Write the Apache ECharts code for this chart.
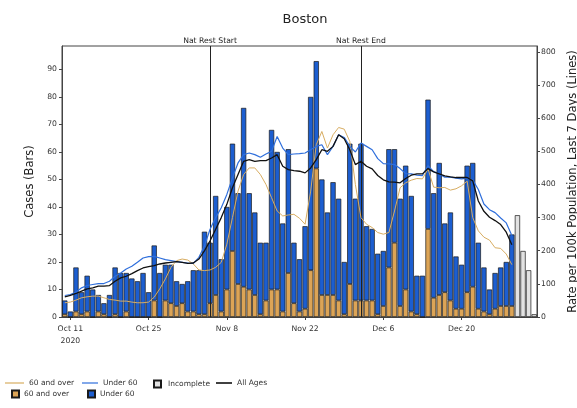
<!DOCTYPE html>
<html><head><meta charset="utf-8">
<script src="https://cdn.jsdelivr.net/npm/echarts@6/dist/echarts.min.js"></script>
<style>html,body{margin:0;padding:0;background:#fff}#c{width:577px;height:408px}</style>
</head><body><div id="c"></div>
<script>
const categories = ['Oct 10','Oct 11','Oct 12','Oct 13','Oct 14','Oct 15','Oct 16','Oct 17','Oct 18','Oct 19','Oct 20','Oct 21','Oct 22','Oct 23','Oct 24','Oct 25','Oct 26','Oct 27','Oct 28','Oct 29','Oct 30','Oct 31',
'Nov 1','Nov 2','Nov 3','Nov 4','Nov 5','Nov 6','Nov 7','Nov 8','Nov 9','Nov 10','Nov 11','Nov 12','Nov 13','Nov 14','Nov 15','Nov 16','Nov 17','Nov 18','Nov 19','Nov 20','Nov 21','Nov 22','Nov 23','Nov 24','Nov 25','Nov 26','Nov 27','Nov 28','Nov 29','Nov 30',
'Dec 1','Dec 2','Dec 3','Dec 4','Dec 5','Dec 6','Dec 7','Dec 8','Dec 9','Dec 10','Dec 11','Dec 12','Dec 13','Dec 14','Dec 15','Dec 16','Dec 17','Dec 18','Dec 19','Dec 20','Dec 21','Dec 22','Dec 23','Dec 24','Dec 25','Dec 26','Dec 27','Dec 28','Dec 29','Dec 30','Dec 31',
'Jan 1','Jan 2'];

const over60Cases = [1,0,2,1,2,0,2,1,0,1, 0,2,0,0,0,0,6,0,6,5, 4,5,2,2,1,1,5,8,2,10, 24,12,11,10,8,1,6,10,10,2, 16,5,2,3,17,54,8,8,8,6, 1,12,6,6,6,6,1,4,18,27, 4,10,2,1,0,32,7,8,9,6, 3,3,9,11,3,2,1,3,4,4, 4];
const under60Cases = [5,2,16,8,13,10,6,4,8,17, 16,14,14,13,16,9,20,16,13,14, 9,7,11,15,16,30,22,36,19,30, 39,33,65,35,30,26,21,58,50,32, 45,22,19,30,63,39,42,30,41,37, 19,51,37,57,27,26,22,20,43,34, 39,45,42,14,15,47,38,48,25,32, 19,16,46,45,24,16,9,13,14,16, 26];
const incompleteDates = ['Dec 30','Dec 31','Jan 1','Jan 2'];
const incompleteCases = [37,24,17,1];

const over60Rate = [43,45,51,58,61,63,63,58,53,51, 48,48,45,43,43,45,60,85,115,150, 170,175,172,160,142,140,142,150,165,220, 300,380,430,450,450,430,400,360,320,305, 308,310,298,280,380,520,560,510,550,572, 567,530,400,300,280,270,255,250,255,320, 390,405,413,418,417,447,392,390,391,383, 387,396,410,300,260,241,232,209,207,190, 158];
const under60Rate = [65,68,75,88,95,98,101,101,108,123, 133,145,153,165,178,182,183,178,173,170, 167,165,163,162,180,215,265,300,330,370, 420,465,490,495,490,482,492,500,545,510, 490,492,493,495,505,515,520,490,515,550, 542,515,498,525,515,505,478,463,462,460, 448,433,432,428,427,457,439,432,422,422, 419,417,419,414,385,341,324,315,299,284, 246];
const allAgesRate = [61,65,71,78,85,88,93,93,95,108, 118,123,131,140,148,152,155,160,163,165, 167,165,162,163,175,200,230,265,300,340, 390,430,470,475,470,472,472,480,490,455, 445,442,440,435,450,475,505,500,515,550, 538,505,460,470,455,447,427,414,408,407, 405,418,428,432,432,448,438,432,426,423, 421,421,421,411,350,319,301,291,279,256, 218];

const leftTicks = [0,10,20,30,40,50,60,70,80,90];
const rightTicks = [0,100,200,300,400,500,600,700,800];
const xTickDates = ['Oct 11','Oct 25','Nov 8','Nov 22','Dec 6','Dec 20'];
const firstLabelYear = '2020';
const events = [{name:'Nat Rest Start', date:'Nov 5'},{name:'Nat Rest End', date:'Dec 2'}];

const FONT = 'DejaVu Sans';
const TXT = '#333';
const tickSet = new Set(xTickDates);
const showTick = (i, v) => tickSet.has(categories[i]);

function lg(name, left, top, w, h, pad) {
  return {
    data:[name], left:left, top:top, itemWidth:w, itemHeight:h, icon:'rect',
    padding:0, itemGap:0, selectedMode:false,
    textStyle:{fontSize:7.5, color:TXT, fontFamily:FONT, padding:[0,0,0,pad||0]},
    formatter: n => n.replace(' rate','')
  };
}

const chart = echarts.init(document.getElementById('c'), null, {renderer:'canvas'});
chart.setOption({
  animation:false,
  backgroundColor:'#fff',
  textStyle:{fontFamily:FONT},
  title:{text:'Boston', left:300, top:8, textAlign:'center',
    textStyle:{fontSize:13, fontWeight:'normal', color:'#222', fontFamily:FONT}},
  grid:{left:62, right:40, top:46, bottom:91, show:true, borderColor:'#444', borderWidth:1,
    backgroundColor:'transparent', containLabel:false, outerBoundsMode:'none'},
  legend:[
    lg('60 and over rate', 5, 379, 19, 1.2),
    lg('Under 60 rate', 82, 379, 16, 1.2),
    lg('Incomplete', 153, 379.5, 7, 7, 2),
    lg('All Ages', 216, 379, 16, 1.6),
    lg('60 and over', 11, 389.5, 7, 7),
    lg('Under 60', 87, 389.5, 7, 7)
  ],
  xAxis:{
    type:'category', data:categories, boundaryGap:true,
    axisLine:{lineStyle:{color:'#444', width:1}},
    axisTick:{show:true, alignWithLabel:true, interval:showTick, length:3, lineStyle:{color:'#444'}},
    axisLabel:{interval:showTick, fontSize:7.7, color:TXT, margin:6, lineHeight:12, fontFamily:FONT,
      formatter:(v, i) => (v === xTickDates[0] ? v + '\n' + firstLabelYear : v)},
    splitLine:{show:false}
  },
  yAxis:[
    {type:'value', min:0, max:98.5, interval:10, position:'left',
      name:'Cases (Bars)', nameLocation:'middle', nameGap:26, nameRotate:90,
      nameTextStyle:{fontSize:11.5, color:'#222', fontFamily:FONT},
      axisLine:{show:true, lineStyle:{color:'#444', width:1}},
      axisTick:{show:true, length:3, customValues:leftTicks, lineStyle:{color:'#444'}},
      axisLabel:{fontSize:7.7, color:TXT, margin:5, customValues:leftTicks, fontFamily:FONT},
      splitLine:{show:false}},
    {type:'value', min:0, max:818, interval:100, position:'right',
      name:'Rate per 100k Population, Last 7 Days (Lines)', nameLocation:'middle', nameGap:28, nameRotate:90,
      nameTextStyle:{fontSize:11.5, color:'#222', fontFamily:FONT},
      axisLine:{show:true, lineStyle:{color:'#444', width:1}},
      axisTick:{show:true, length:3, customValues:rightTicks, lineStyle:{color:'#444'}},
      axisLabel:{fontSize:7.7, color:TXT, margin:4, customValues:rightTicks, fontFamily:FONT},
      splitLine:{show:false}}
  ],
  series:[
    {name:'60 and over', type:'bar', stack:'cases', data:over60Cases, barCategoryGap:'6%', barGap:'-100%',
      itemStyle:{color:'#dca456', borderColor:'#1a1a1a', borderWidth:0.7},
      markLine:{silent:true, symbol:['none','none'], animation:false,
        lineStyle:{color:'#222', width:1, type:'solid'},
        label:{show:true, position:'end', formatter:'{b}', distance:1, fontSize:7.7, color:'#222', fontFamily:FONT},
        emphasis:{disabled:true},
        data:events.map(e => ({name:e.name, xAxis:e.date}))}},
    {name:'Under 60', type:'bar', stack:'cases', data:under60Cases, barCategoryGap:'6%', barGap:'-100%',
      itemStyle:{color:'#1c5ed0', borderColor:'#1a1a1a', borderWidth:0.7}},
    {name:'Incomplete', type:'bar', stack:'inc', data:incompleteDates.map((d,i)=>[d, incompleteCases[i]]),
      barCategoryGap:'6%', barGap:'-100%',
      itemStyle:{color:'#e2e2e2', borderColor:'#1a1a1a', borderWidth:0.7}},
    {name:'60 and over rate', type:'line', yAxisIndex:1, data:over60Rate, showSymbol:false, z:5,
      itemStyle:{color:'#d8ad62'}, lineStyle:{color:'#d8ad62', width:1}},
    {name:'Under 60 rate', type:'line', yAxisIndex:1, data:under60Rate, showSymbol:false, z:6,
      itemStyle:{color:'#2f6fdc'}, lineStyle:{color:'#2f6fdc', width:1.2}},
    {name:'All Ages', type:'line', yAxisIndex:1, data:allAgesRate, showSymbol:false, z:7,
      itemStyle:{color:'#111'}, lineStyle:{color:'#111', width:1.3}}
  ]
});
</script>
</body></html>
